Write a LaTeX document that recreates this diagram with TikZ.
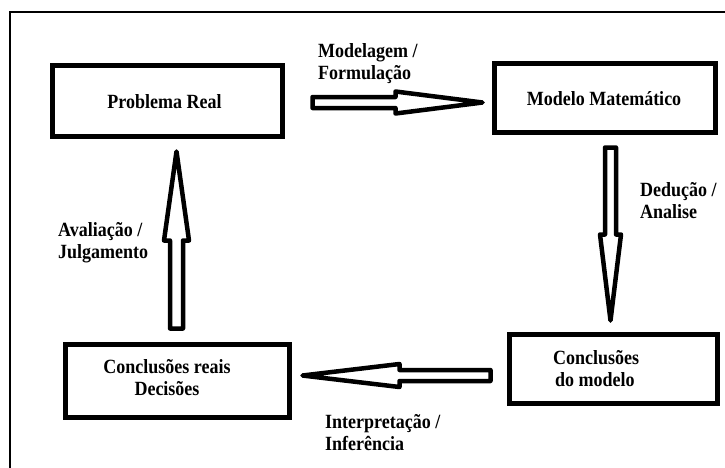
\documentclass[tikz,border=0pt]{standalone}
\usepackage{fontspec}
\usepackage{graphicx}
\setmainfont{Liberation Serif}
\usetikzlibrary{calc}
\newcommand\tall[1]{\scalebox{1}[1.12]{#1}}
\tikzset{
  box/.style={draw=black, line width=5pt, rectangle, inner sep=0pt},
  txt/.style={font=\fontsize{18}{22}\selectfont\bfseries, inner sep=0pt, align=left, text=black},
  ctxt/.style={font=\fontsize{18}{22}\selectfont\bfseries, inner sep=0pt, align=center, text=black},
  blockarrow/.style={draw=black, line width=4.5pt, line join=round, fill=white},
  frameline/.style={draw=black, line width=2pt}
}
\newcommand\myblockarrow[5]{%
  \path (#1) coordinate (ba-t) (#2) coordinate (ba-h)
        ($(ba-h)!#3!(ba-t)$) coordinate (ba-b);
  \draw[blockarrow] ($(ba-t)!#4!90:(ba-h)$) -- ($(ba-b)!#4!90:(ba-h)$)
     -- ($(ba-b)!#5!90:(ba-h)$) -- (ba-h) -- ($(ba-b)!#5!-90:(ba-h)$)
     -- ($(ba-b)!#4!-90:(ba-h)$) -- ($(ba-t)!#4!-90:(ba-h)$) -- cycle;
}
\begin{document}
\begin{tikzpicture}[x=1pt,y=-1pt]
\useasboundingbox (0,0) rectangle (725,467);
% frame
\coordinate (fTL) at (10,12);
\coordinate (fTR) at (727,12);
\coordinate (fBL) at (10,469);
\draw[frameline] (fTR) -- (fTL) -- (fBL);

% boxes
\node[box, minimum width=230pt, minimum height=71pt] (pr) at (167.5,101) {};
\node[box, minimum width=221pt, minimum height=69pt] (mm) at (605,98) {};
\node[box, minimum width=224pt, minimum height=73pt] (cr) at (177.5,381) {};
\node[box, minimum width=208pt, minimum height=69pt] (cm) at (613.5,369) {};

% box texts
\node[ctxt] (tpr) at (164.5,102) {\tall{Problema Real}};
\node[ctxt] (tmm) at (604,99) {\tall{Modelo Matemático}};
\node[ctxt] (tcr) at (167,378) {\tall{Conclusões reais}\\\tall{Decisões}};
\node[txt, anchor=west] (tcm) at (553,368.5) {\tall{Conclusões}\\\hspace{2pt}\tall{do modelo}};

% arrows
\coordinate (a1t) at ($(pr.east)+(27.5,1.5)$);
\coordinate (a1h) at ($(mm.west)+(-9.5,4.5)$);
\myblockarrow{a1t}{a1h}{87pt}{5.5pt}{11pt}

\coordinate (a3t) at ($(mm.south)+(5.5,12.5)$);
\coordinate (a3h) at ($(cm.north)+(-3,-11.5)$);
\myblockarrow{a3t}{a3h}{86pt}{5.5pt}{10.5pt}

\coordinate (a4t) at ($(cm.west)+(-16.5,6.5)$);
\coordinate (a4h) at ($(cr.east)+(10.5,-5.5)$);
\myblockarrow{a4t}{a4h}{97pt}{5.5pt}{11.5pt}

\coordinate (a2t) at ($(cr.north)+(-1,-13.5)$);
\coordinate (a2h) at ($(pr.south)+(9,12.5)$);
\myblockarrow{a2t}{a2h}{89pt}{6.5pt}{12.5pt}

% arrow labels
\node[txt, anchor=west] (l1) at (318,64) {\tall{Modelagem /}\\\tall{Formulação}};
\node[txt, anchor=west] (l3) at (640,201) {\tall{Dedução /}\\\tall{Analise}};
\node[txt, anchor=west] (l2) at (58,243) {\tall{Avaliação /}\\\tall{Julgamento}};
\node[txt, anchor=west] (l4) at (325,433) {\tall{Interpretação /}\\\tall{Inferência}};
\end{tikzpicture}
\end{document}
